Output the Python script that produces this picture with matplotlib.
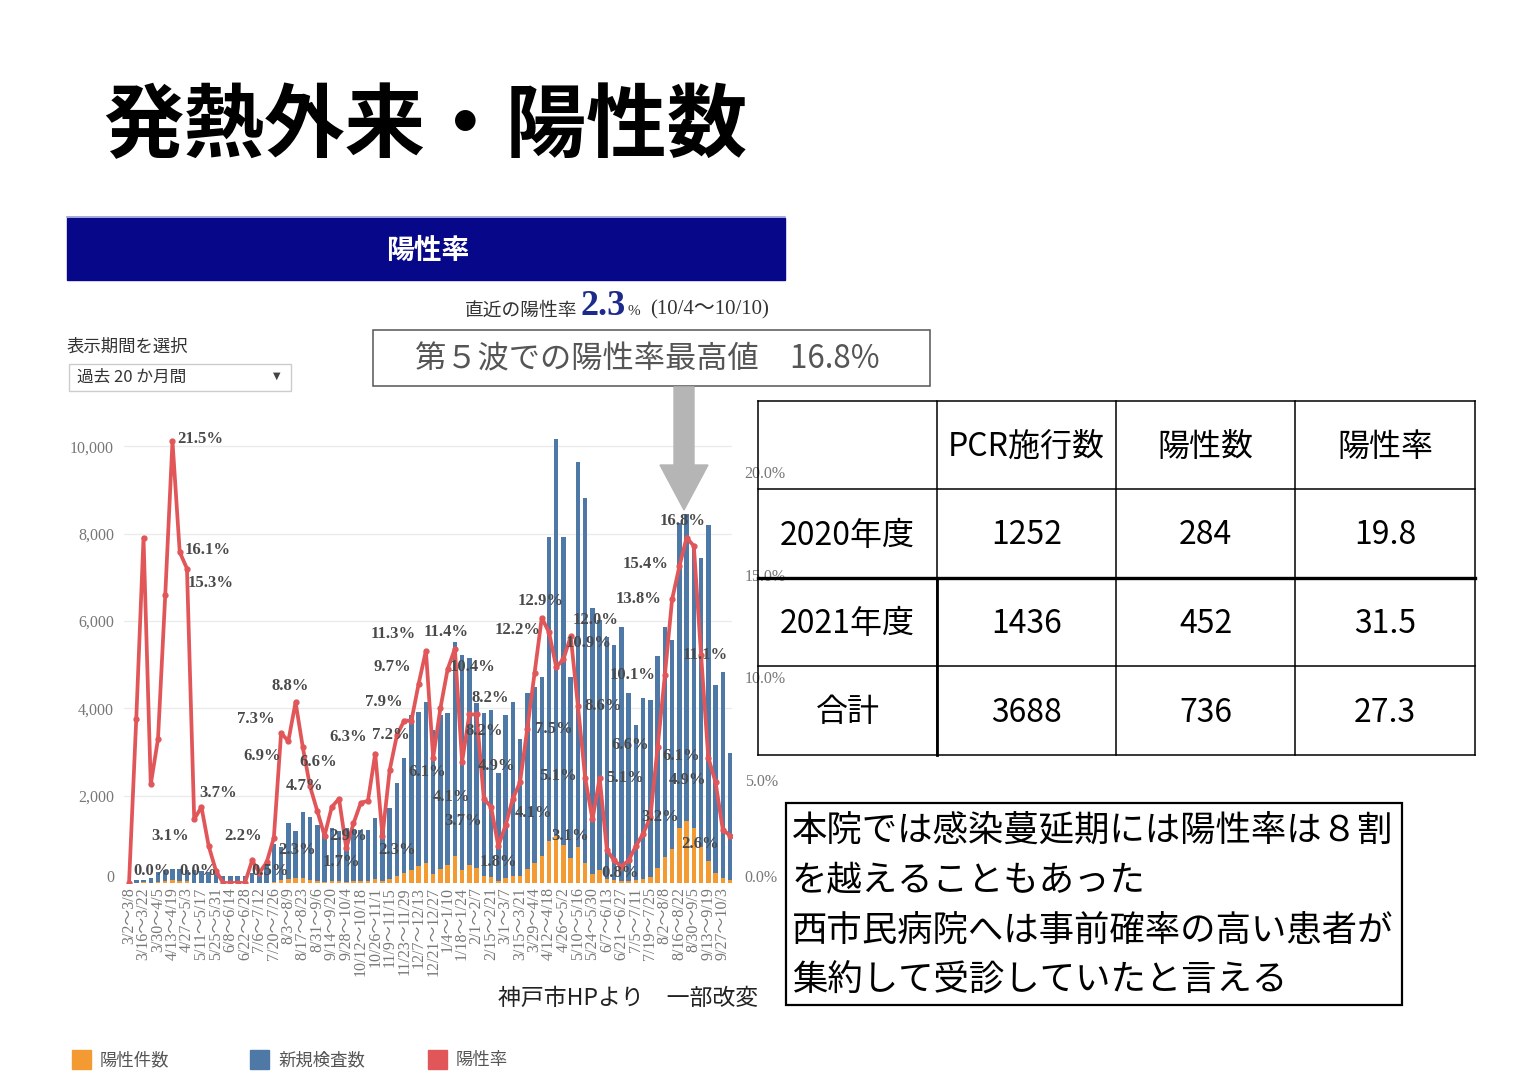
## plot.py: weekly PCR tests / positives / positivity rate slide
# -----------------------------------------------------------------------------
from matplotlib import (pyplot as plt, patches as pat, lines as mln)
from matplotlib.transforms import ScaledTranslation

plt.rcParams['font.family'] = ['Noto Sans CJK JP', 'DejaVu Sans']
SERIF = ['Liberation Serif', 'Noto Sans CJK JP']

# -----------------------------------------------------------------------------
# section_a: data (weekly, 2020-03-02 .. 2021-10-10)
week_labels = [
    '3/2〜3/8', '3/16〜3/22', '3/30〜4/5', '4/13〜4/19', '4/27〜5/3',
    '5/11〜5/17', '5/25〜5/31', '6/8〜6/14', '6/22〜6/28', '7/6〜7/12',
    '7/20〜7/26', '8/3〜8/9', '8/17〜8/23', '8/31〜9/6', '9/14〜9/20',
    '9/28〜10/4', '10/12〜10/18', '10/26〜11/1', '11/9〜11/15', '11/23〜11/29',
    '12/7〜12/13', '12/21〜12/27', '1/4〜1/10', '1/18〜1/24', '2/1〜2/7',
    '2/15〜2/21', '3/1〜3/7', '3/15〜3/21', '3/29〜4/4', '4/12〜4/18',
    '4/26〜5/2', '5/10〜5/16', '5/24〜5/30', '6/7〜6/13', '6/21〜6/27',
    '7/5〜7/11', '7/19〜7/25', '8/2〜8/8', '8/16〜8/22', '8/30〜9/5',
    '9/13〜9/19', '9/27〜10/3']

tests = [
    30, 60, 80, 120, 250, 300, 320, 310, 300, 300,
    280, 250, 220, 170, 160, 160, 170, 220, 300, 450,
    900, 830, 1370, 1180, 1630, 1520, 1330, 1140, 1250, 1180,
    1250, 1215, 1220, 1215, 1480, 1520, 1710, 2280, 2860, 3850,
    3925, 4150, 3500, 3850, 3890, 5530, 5220, 5150, 4120, 3890,
    3960, 2510, 3850, 4150, 3310, 4350, 4500, 4730, 7930, 10170,
    7930, 4730, 9650, 8820, 6300, 6025, 5640, 5450, 5870, 4350,
    3620, 4240, 4190, 5190, 5870, 5570, 8240, 8450, 7700, 7440,
    8200, 4540, 4840, 2980]

positives = [
    0, 5, 13, 6, 18, 42, 69, 50, 46, 9,
    10, 5, 1, 0, 0, 0, 0, 2, 2, 5,
    20, 61, 95, 104, 108, 71, 47, 26, 46, 48,
    21, 35, 48, 49, 93, 35, 94, 164, 226, 304,
    381, 469, 214, 327, 405, 630, 308, 422, 338, 159,
    147, 45, 108, 170, 162, 326, 459, 610, 967, 1068,
    864, 568, 830, 450, 195, 307, 90, 60, 47, 48,
    65, 102, 134, 343, 593, 769, 1269, 1420, 1263, 826,
    500, 222, 126, 69]

rate = [
    0.0, 8.0, 16.8, 4.8, 7.0, 14.0, 21.5, 16.1, 15.3, 3.1,
    3.7, 1.8, 0.6, 0.0, 0.0, 0.0, 0.0, 1.1, 0.5, 1.0,
    2.2, 7.3, 6.9, 8.8, 6.6, 4.7, 3.5, 2.3, 3.7, 4.1,
    1.7, 2.9, 3.9, 4.0, 6.3, 2.3, 5.5, 7.2, 7.9, 7.9,
    9.7, 11.3, 6.1, 8.5, 10.4, 11.4, 5.9, 8.2, 8.2, 4.1,
    3.7, 1.8, 2.8, 4.1, 4.9, 7.5, 10.2, 12.9, 12.2, 10.5,
    10.9, 12.0, 8.6, 5.1, 3.1, 5.1, 1.6, 1.1, 0.8, 1.1,
    1.8, 2.4, 3.2, 6.6, 10.1, 13.8, 15.4, 16.8, 16.4, 11.1,
    6.1, 4.9, 2.6, 2.3]

# percentage annotations as they sit on the chart (week index, percent)
pct_texts = [
    '21.5%', '16.1%', '15.3%', '3.7%', '3.1%', '0.0%', '0.0%', '2.2%', '0.5%',
    '7.3%', '6.9%', '8.8%', '6.6%', '4.7%', '2.3%', '2.9%', '1.7%', '6.3%',
    '7.2%', '7.9%', '9.7%', '11.3%', '11.4%', '2.3%', '6.1%', '10.4%', '4.1%',
    '3.7%', '8.2%', '8.2%', '4.9%', '1.8%', '12.2%', '12.9%', '4.1%', '7.5%',
    '5.1%', '3.1%', '12.0%', '10.9%', '8.6%', '5.1%', '10.1%', '6.6%', '0.8%',
    '15.4%', '13.8%', '16.8%', '11.1%', '6.1%', '4.9%', '3.2%', '2.6%']
pct_pos = [
    (9.8, 21.6), (10.9, 16.2), (11.2, 14.6), (12.3, 4.4), (5.7, 2.3),
    (3.2, 0.6), (9.5, 0.6), (15.8, 2.3), (19.5, 0.6), (17.5, 8.0),
    (18.4, 6.2), (22.2, 9.6), (26.1, 5.9), (24.3, 4.7), (23.2, 1.6),
    (30.3, 2.3), (29.4, 1.0), (30.3, 7.1), (36.1, 7.2), (35.2, 8.8),
    (36.3, 10.5), (36.5, 12.1), (43.8, 12.2), (37.0, 1.6), (41.2, 5.4),
    (47.4, 10.5), (44.6, 4.2), (46.1, 3.0), (49.9, 9.0), (49.0, 7.4),
    (50.8, 5.7), (51.0, 1.0), (53.6, 12.3), (56.9, 13.7), (55.8, 3.4),
    (58.6, 7.5), (59.3, 5.2), (60.9, 2.3), (64.4, 12.8), (63.4, 11.7),
    (65.5, 8.6), (68.5, 5.1), (69.6, 10.1), (69.2, 6.7), (67.8, 0.5),
    (71.3, 15.5), (70.3, 13.8), (76.5, 17.6), (79.6, 11.1), (76.2, 6.2),
    (77.1, 5.0), (73.3, 3.2), (78.9, 1.9)]

table_header = ['', 'PCR施行数', '陽性数', '陽性率']
table_rows = [
    ['2020年度', '1252', '284', '19.8'],
    ['2021年度', '1436', '452', '31.5'],
    ['合計', '3688', '736', '27.3']]

note_lines = [
    '本院では感染蔓延期には陽性率は８割',
    'を越えることもあった',
    '西市民病院へは事前確率の高い患者が',
    '集約して受診していたと言える']

# -----------------------------------------------------------------------------
# section_b: figure, pixel helpers
W, H = 1536, 1086
fig = plt.figure(figsize=(W / 100, H / 100), dpi=100)

def fx(x):
    return x / W

def fy(y):
    return 1 - y / H

C_BLUE, C_ORANGE, C_RED = '#4e79a7', '#f39a32', '#e15759'

# title
fig.text(fx(103), fy(128), '発熱外来・陽性数', fontsize=58, weight='bold',
         va='center', ha='left', color='black')

# navy banner
fig.patches.append(pat.Rectangle((fx(67), fy(280)), fx(785) - fx(67), fy(218) - fy(280),
                                 transform=fig.transFigure, color='#07078a'))
fig.lines.append(mln.Line2D([fx(67), fx(785)], [fy(216.5), fy(216.5)],
                            transform=fig.transFigure, color='#9a9ad8', lw=1.2))
fig.text(fx(428), fy(251), '陽性率', fontsize=20, weight='bold', color='white',
         ha='center', va='center')

# latest rate line
fig.text(fx(465), fy(310), '直近の陽性率', fontsize=13.5, color='#333', va='center')
fig.text(fx(580), fy(306), '2.3', fontsize=26, weight='bold', color='#1c2a8a',
         va='center', family=SERIF)
fig.text(fx(628), fy(312), '%', fontsize=11, color='#333', va='center', family=SERIF)
fig.text(fx(650), fy(310), '(10/4〜10/10)', fontsize=15, color='#333',
         va='center', family=SERIF)

# period selector
fig.text(fx(67), fy(347), '表示期間を選択', fontsize=12.5, color='#333', va='center')
fig.patches.append(pat.Rectangle((fx(69), fy(391)), fx(291) - fx(69), fy(364) - fy(391),
                                 transform=fig.transFigure, fill=False,
                                 edgecolor='#cccccc', lw=1))
fig.text(fx(77), fy(377), '過去 20 か月間', fontsize=12, color='#333', va='center')
fig.text(fx(277), fy(376), '▼', fontsize=7, color='#444', va='center', ha='center',
         family=['DejaVu Sans'])

# callout box
fig.patches.append(pat.Rectangle((fx(373), fy(386)), fx(930) - fx(373), fy(330) - fy(386),
                                 transform=fig.transFigure, fill=False,
                                 edgecolor='#555555', lw=1.1))
fig.text(fx(415), fy(359), '第５波での陽性率最高値　16.8%', fontsize=22.5,
         color='#555555', va='center')

# grey arrow
fig.patches.append(pat.Polygon(
    [(fx(674), fy(387)), (fx(694), fy(387)), (fx(694), fy(465)), (fx(708), fy(465)),
     (fx(684), fy(510)), (fx(660), fy(465)), (fx(674), fy(465))],
    closed=True, transform=fig.transFigure, color='#b5b5b5', zorder=5))

# -----------------------------------------------------------------------------
# section_c: combo chart
x_idx = list(range(len(tests)))
ax = fig.add_axes([fx(123.6), fy(883), fx(732.2) - fx(123.6), fy(430) - fy(883)])
ax.set_xlim(-0.75, 83.3)
ax.set_ylim(0, 10378)
ax.bar(x_idx, tests, width=0.62, color=C_BLUE, zorder=2)
ax.bar(x_idx, positives, width=0.62, color=C_ORANGE, zorder=3)
ax.set_yticks([0, 2000, 4000, 6000, 8000, 10000])
ax.set_yticklabels([f'{v:,}' for v in [0, 2000, 4000, 6000, 8000, 10000]],
                   family=SERIF, fontsize=11.5, color='#777')
ax.grid(axis='y', color='#ebebeb', lw=1)
ax.set_axisbelow(True)
ax.set_xticks(x_idx[::2])
ax.set_xticklabels(week_labels, rotation=90, family=SERIF, fontsize=11.5, color='#777')
ax.tick_params(length=0, axis='y', pad=7)
ax.tick_params(length=0, axis='x', pad=3)
for sp in ax.spines.values():
    sp.set_visible(False)

ax2 = ax.twinx()
ax2.set_ylim(0, 22.04)
ax2.plot(x_idx, rate, color=C_RED, lw=2.7, marker='o', ms=3.5, zorder=4)
ax2.set_yticks([0, 5, 10, 15, 20])
ax2.set_yticklabels([f'{v:.1f}%' for v in [0, 5, 10, 15, 20]],
                    family=SERIF, fontsize=11.5, color='#777')
ax2.tick_params(length=0, pad=9)
for sp in ax2.spines.values():
    sp.set_visible(False)

# the zero labels sit a little above the baseline in the original
lift = ScaledTranslation(0, 7 / 100, fig.dpi_scale_trans)
for lab in (ax.get_yticklabels()[0], ax2.get_yticklabels()[0]):
    lab.set_transform(lab.get_transform() + lift)

for txt, (xx, yy) in zip(pct_texts, pct_pos):
    ax2.text(xx, yy, txt, ha='center', va='center', fontsize=12, weight='bold',
             color='#4a4a4a', family=SERIF, zorder=6, clip_on=False)

# source
fig.text(fx(498), fy(998), '神戸市HPより　一部改変', fontsize=16.5, color='#222',
         va='center')

# legend
for lx, col, name in [(72, C_ORANGE, '陽性件数'), (250, C_BLUE, '新規検査数'),
                      (428, C_RED, '陽性率')]:
    fig.patches.append(pat.Rectangle((fx(lx), fy(1069)), fx(19), fy(1050) - fy(1069),
                                     transform=fig.transFigure, color=col))
    fig.text(fx(lx + 28), fy(1060), name, fontsize=12.5, color='#555', va='center')

# -----------------------------------------------------------------------------
# section_d: table and note box
cols = [758, 937, 1116, 1295, 1475]
rows = [401, 489, 578, 666, 755]
for ry in rows:
    fig.lines.append(mln.Line2D([fx(cols[0]), fx(cols[-1])], [fy(ry), fy(ry)],
                                transform=fig.transFigure, color='black',
                                lw=2.4 if ry == 578 else 1.1))
for cx in cols:
    fig.lines.append(mln.Line2D([fx(cx), fx(cx)], [fy(rows[0]), fy(rows[-1])],
                                transform=fig.transFigure, color='black', lw=1.1))
fig.lines.append(mln.Line2D([fx(937), fx(937)], [fy(578), fy(755)],
                            transform=fig.transFigure, color='black', lw=2.0))
for r, row in enumerate([table_header] + table_rows):
    for c, cell in enumerate(row):
        fig.text(fx((cols[c] + cols[c + 1]) / 2), fy((rows[r] + rows[r + 1]) / 2 + 2),
                 cell, fontsize=23, ha='center', va='center', color='black')

fig.patches.append(pat.Rectangle((fx(786), fy(1005)), fx(1402) - fx(786), fy(803) - fy(1005),
                                 transform=fig.transFigure, fill=False,
                                 edgecolor='black', lw=1.6))
for k, line in enumerate(note_lines):
    fig.text(fx(792), fy(831 + 50 * k), line, fontsize=25.5, ha='left', va='center',
             color='black')

fig.savefig('out.png', dpi=100)
